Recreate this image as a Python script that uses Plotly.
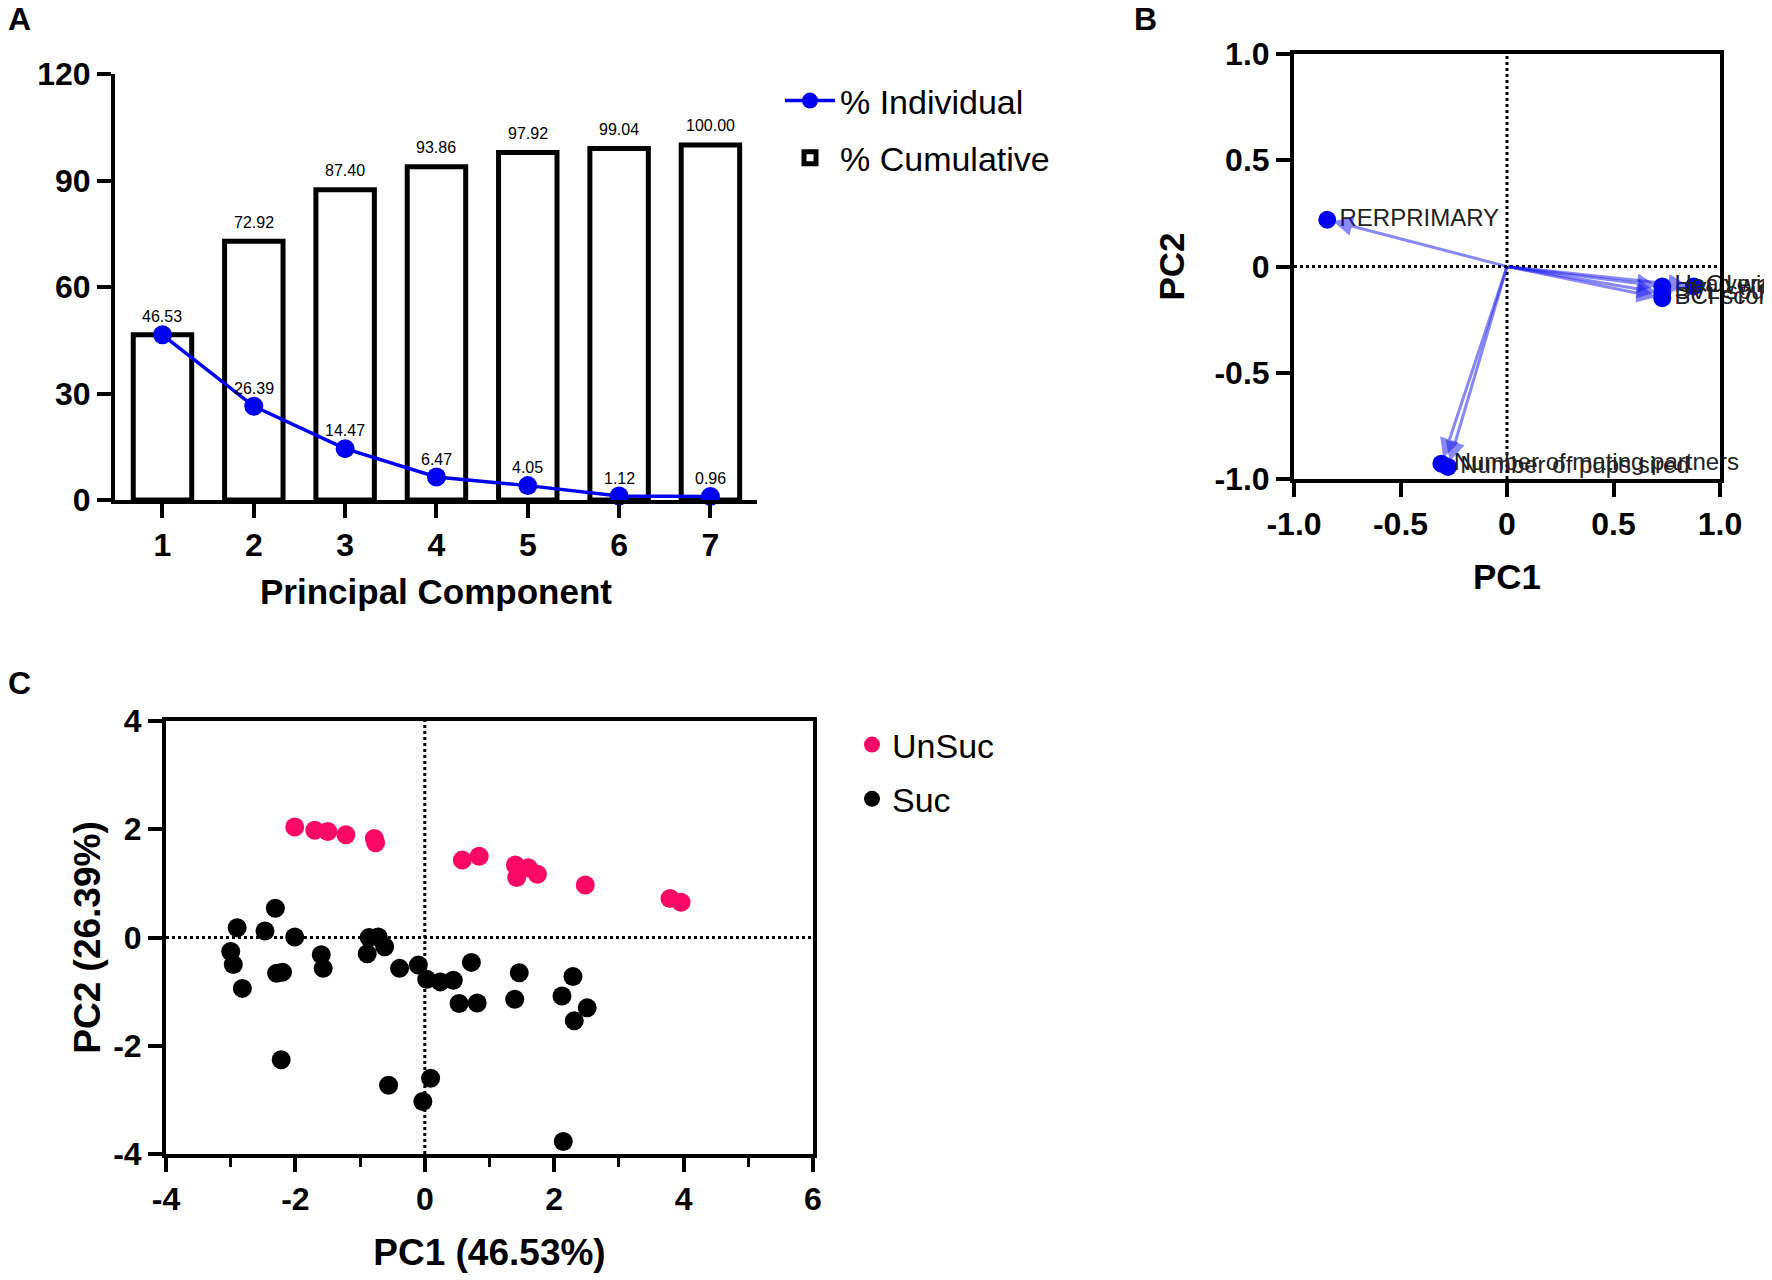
import plotly.graph_objects as go

# panel A: scree data
components = [1, 2, 3, 4, 5, 6, 7]
pct_individual = [46.53, 26.39, 14.47, 6.47, 4.05, 1.12, 0.96]
pct_cumulative = [46.53, 72.92, 87.40, 93.86, 97.92, 99.04, 100.00]

# panel B: loadings
load_names = ["RERPRIMARY", "Number of mating partners", "Number of pups sired",
              "Head width", "Overall length", "BCI score", "SVL spur"]
load_pc1 = [-0.844, -0.308, -0.277, 0.729, 0.877, 0.729, 0.729]
load_pc2 = [0.22, -0.928, -0.943, -0.094, -0.094, -0.149, -0.125]

# panel C: scores
unsuc_pc1 = [-2.01, -1.70, -1.50, -1.22, -0.78, -0.76, 0.58, 0.84, 1.40, 1.60, 1.42, 1.74, 2.48, 3.79, 3.96]
unsuc_pc2 = [2.04, 1.98, 1.96, 1.90, 1.83, 1.75, 1.43, 1.50, 1.34, 1.29, 1.11, 1.17, 0.97, 0.72, 0.65]
suc_pc1 = [-2.31, -2.90, -2.47, -2.01, -3.00, -2.96, -2.82, -2.29, -2.20, -1.60, -1.57,
           -0.86, -0.72, -0.62, -0.89, -0.39, -0.10, 0.03, 0.24, 0.44, 0.72, 0.53, 0.81,
           1.46, 1.39, 2.29, 2.12, 2.51, 2.31, -2.22, -0.56, 0.09, -0.03, 2.14]
suc_pc2 = [0.54, 0.18, 0.12, 0.01, -0.26, -0.50, -0.94, -0.66, -0.64, -0.32, -0.57,
           0.00, 0.01, -0.17, -0.30, -0.57, -0.51, -0.77, -0.82, -0.79, -0.46, -1.22, -1.21,
           -0.65, -1.14, -0.72, -1.08, -1.30, -1.54, -2.26, -2.73, -2.60, -3.03, -3.77]

c_xticks = [-4, -2, 0, 2, 4, 6]
c_yticks = [-4, -2, 0, 2, 4]
b_ticks = [-1, -0.5, 0, 0.5, 1]
b_ticktext = ["-1.0", "-0.5", "0", "0.5", "1.0"]

FONT = "Liberation Sans, Arial, sans-serif"
W, H = 1772, 1280
DX, DY = -6, -7
BLUE = "#0000f0"
PINK = "#fa0a64"


def dom_x(a, b):
    return [(a + DX) / W, (b + DX) / W]


def dom_y(top, bottom):
    return [1 - (bottom + DY) / H, 1 - (top + DY) / H]


def px(x):
    return (x + DX) / W


def py(y):
    return 1 - (y + DY) / H


bold = dict(family=FONT, size=32, color="black", weight="bold")
title_font = dict(family=FONT, size=35, color="black", weight="bold")
title_font_c = dict(family=FONT, size=37, color="black", weight="bold")
value_font = dict(family=FONT, size=16, color="black")

fig = go.Figure()

# ---- A ----
fig.add_trace(go.Bar(x=components, y=pct_cumulative, name="% Cumulative", width=0.64,
                     marker=dict(color="white", line=dict(color="black", width=5)),
                     legend="legend", legendgroup="cum", legendrank=2, xaxis="x", yaxis="y"))
fig.add_trace(go.Scatter(x=components, y=pct_individual, name="% Individual",
                         mode="lines+markers", cliponaxis=False,
                         line=dict(color=BLUE, width=3.5), marker=dict(color=BLUE, size=19),
                         legend="legend", legendgroup="ind", legendrank=1, xaxis="x", yaxis="y"))

# value labels
for c, cum, ind in zip(components, pct_cumulative, pct_individual):
    if cum != ind:
        fig.add_annotation(x=c, y=cum, xref="x", yref="y", text=f"{cum:.2f}", showarrow=False,
                           yanchor="middle", yshift=19, font=value_font)
    fig.add_annotation(x=c, y=ind, xref="x", yref="y", text=f"{ind:.2f}", showarrow=False,
                       yanchor="middle", yshift=18, font=value_font)

# ---- B ----
for lx_, ly_ in zip(load_pc1, load_pc2):
    fig.add_annotation(x=lx_, y=ly_, ax=0, ay=0, xref="x2", yref="y2", axref="x2", ayref="y2",
                       showarrow=True, arrowhead=2, arrowsize=1.3, arrowwidth=3, standoff=6,
                       arrowcolor="rgba(20,20,240,0.5)", text="")
fig.add_trace(go.Scatter(x=load_pc1, y=load_pc2, mode="markers+text", text=load_names,
                         textposition="middle right", cliponaxis=False, showlegend=False,
                         textfont=dict(family=FONT, size=24, color="#222"),
                         marker=dict(color=BLUE, size=18), xaxis="x2", yaxis="y2"))

# ---- C ----
fig.add_trace(go.Scatter(x=unsuc_pc1, y=unsuc_pc2, mode="markers", name="UnSuc",
                         marker=dict(color=PINK, size=19), legend="legend2", legendgroup="u",
                         xaxis="x3", yaxis="y3"))
fig.add_trace(go.Scatter(x=suc_pc1, y=suc_pc2, mode="markers", name="Suc",
                         marker=dict(color="black", size=19), legend="legend2", legendgroup="s",
                         xaxis="x3", yaxis="y3"))

# zero reference lines
for xa, ya, (x0, x1), (y0, y1) in [("x2", "y2", (-1, 1), (-1, 1)), ("x3", "y3", (-4, 6), (-4, 4))]:
    fig.add_shape(type="line", xref=xa, yref=ya, x0=0, x1=0, y0=y0, y1=y1,
                  line=dict(color="black", width=3, dash="dot"), layer="below")
    fig.add_shape(type="line", xref=xa, yref=ya, x0=x0, x1=x1, y0=0, y1=0,
                  line=dict(color="black", width=3, dash="dot"), layer="below")

axis_common = dict(showgrid=False, zeroline=False, linecolor="black", linewidth=4,
                   ticks="outside", ticklen=14, tickwidth=4, tickcolor="black",
                   tickfont=bold, title_font=title_font, automargin=False)

fig.update_layout(
    width=W, height=H, margin=dict(l=0, r=0, t=0, b=0, autoexpand=False),
    paper_bgcolor="white", plot_bgcolor="white",
    barmode="overlay",
    xaxis=dict(axis_common, domain=dom_x(113, 755), range=[0.48, 7.51], tickvals=components,
               title=dict(text="Principal Component", standoff=18), anchor="y"),
    yaxis=dict(axis_common, domain=dom_y(73, 499), range=[0, 120], tickvals=[0, 30, 60, 90, 120],
               anchor="x"),
    xaxis2=dict(axis_common, domain=dom_x(1292, 1718), range=[-1, 1], mirror=True,
                tickvals=b_ticks, ticktext=b_ticktext,
                title=dict(text="PC1", standoff=24), anchor="y2"),
    yaxis2=dict(axis_common, domain=dom_y(53, 478), range=[-1, 1], mirror=True,
                tickvals=b_ticks, ticktext=b_ticktext,
                title=dict(text="PC2", standoff=20), anchor="x2"),
    xaxis3=dict(axis_common, domain=dom_x(164, 811), range=[-4, 6], mirror=True,
                tickvals=c_xticks, ticktext=[str(v) for v in c_xticks],
                minor=dict(tickvals=[-3, -1, 1, 3, 5], ticks="outside", ticklen=9,
                           tickwidth=3, tickcolor="black"),
                title=dict(text="PC1 (46.53%)", standoff=24, font=title_font_c), anchor="y3"),
    yaxis3=dict(axis_common, domain=dom_y(720, 1153), range=[-4, 4], mirror=True,
                tickvals=c_yticks, ticktext=[str(v) for v in c_yticks],
                title=dict(text="PC2 (26.39%)", standoff=2, font=title_font_c), anchor="x3"),
    legend=dict(x=px(778), y=py(71), xanchor="left", yanchor="top", traceorder="grouped",
                tracegroupgap=10, font=dict(family=FONT, size=34, color="black"),
                bgcolor="rgba(0,0,0,0)", itemwidth=50),
    legend2=dict(x=px(850), y=py(715), xanchor="left", yanchor="top", traceorder="grouped",
                 tracegroupgap=7, font=dict(family=FONT, size=34, color="black"),
                 bgcolor="rgba(0,0,0,0)"),
)

for letter, lx, ly in [("A", 4, -2), ("B", 1130, -2), ("C", 4, 662)]:
    fig.add_annotation(text=letter, xref="paper", yref="paper", x=px(lx), y=py(ly),
                       xanchor="left", yanchor="top", showarrow=False,
                       font=dict(family=FONT, size=32, color="black", weight="bold"))

fig.write_html("out.html")
